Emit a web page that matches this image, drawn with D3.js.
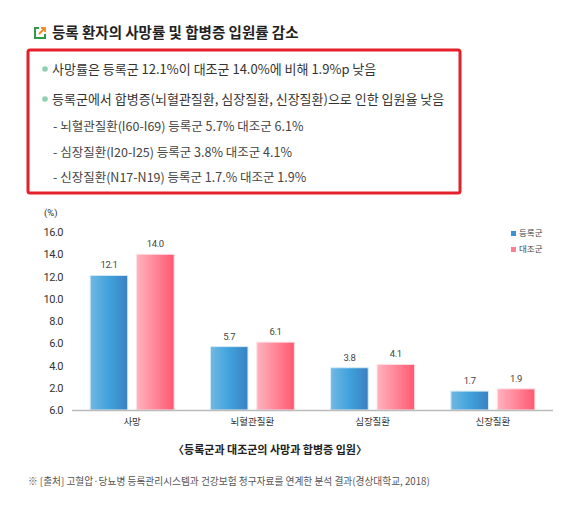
<!DOCTYPE html>
<html>
<head>
<meta charset="utf-8">
<script src="https://cdn.jsdelivr.net/npm/d3@7"></script>
<style>
  body { margin: 0; background: #fff; }
  svg { display: block; font-family: "Noto Sans CJK KR", "Noto Sans", sans-serif; }
</style>
</head>
<body>
<div class="chart"></div>
<script>
// data
const categories = ['사망', '뇌혈관질환', '심장질환', '신장질환'];
const seriesNames = ['등록군', '대조군'];
const registered = [12.1, 5.7, 3.8, 1.7];
const control = [14.0, 6.1, 4.1, 1.9];
const tickValues = [0, 2, 4, 6, 8, 10, 12, 14, 16];
const tickLabels = ['6.0', '2.0', '4.0', '6.0', '8.0', '10.0', '12.0', '14.0', '16.0'];

const title = '등록 환자의 사망률 및 합병증 입원률 감소';
const bullets = [
  '사망률은 등록군 12.1%이 대조군 14.0%에 비해 1.9%p 낮음',
  '등록군에서 합병증(뇌혈관질환, 심장질환, 신장질환)으로 인한 입원율 낮음'
];
const subItems = [
  '뇌혈관질환(I60-I69) 등록군 5.7% 대조군 6.1%',
  '심장질환(I20-I25) 등록군 3.8% 대조군 4.1%',
  '신장질환(N17-N19) 등록군 1.7.% 대조군 1.9%'
];
const caption = '〈등록군과 대조군의 사망과 합병증 입원〉';
const source = '※ [출처] 고혈압·당뇨병 등록관리시스템과 건강보험 청구자료를 연계한 분석 결과(경상대학교, 2018)';

const width = 579;
const height = 511;

const svg = d3.select('.chart')
  .append('svg')
  .attr('width', width)
  .attr('height', height);

// gradients
const defs = svg.append('defs');
const gradBlue = defs.append('linearGradient').attr('id', 'gBlue');
gradBlue.append('stop').attr('offset', '0%').attr('stop-color', '#72b8e4');
gradBlue.append('stop').attr('offset', '50%').attr('stop-color', '#40a2dc');
gradBlue.append('stop').attr('offset', '100%').attr('stop-color', '#3a80c2');
const gradPink = defs.append('linearGradient').attr('id', 'gPink');
gradPink.append('stop').attr('offset', '0%').attr('stop-color', '#ffb3bf');
gradPink.append('stop').attr('offset', '100%').attr('stop-color', '#ff5870');

// title icon
const icon = svg.append('g').attr('transform', 'translate(34,27)');
icon.append('path')
  .attr('d', 'M5,1 H1 V11 H11 V7')
  .attr('fill', 'none').attr('stroke', '#2e9a4a').attr('stroke-width', 2);
icon.append('path')
  .attr('d', 'M5,7 L11,1 M7,1 H11 V5')
  .attr('fill', 'none').attr('stroke', '#f08a24').attr('stroke-width', 1.8);

svg.append('text')
  .attr('x', 52).attr('y', 38)
  .attr('font-size', '14.5px')
  .attr('font-weight', 'bold')
  .attr('fill', '#222')
  .text(title);

// red box
svg.append('rect')
  .attr('x', 28).attr('y', 50)
  .attr('width', 432).attr('height', 143)
  .attr('rx', 2)
  .attr('fill', '#fff')
  .attr('stroke', '#e5202b')
  .attr('stroke-width', 3);

svg.selectAll('circle.bullet')
  .data(bullets)
  .enter()
  .append('circle')
  .attr('class', 'bullet')
  .attr('cx', 45)
  .attr('cy', (d, i) => 69 + i * 30)
  .attr('r', 2.8)
  .attr('fill', '#8ccfb1');

svg.selectAll('text.bullet')
  .data(bullets)
  .enter()
  .append('text')
  .attr('class', 'bullet')
  .attr('x', 52)
  .attr('y', (d, i) => 74 + i * 30)
  .attr('font-size', '13px')
  .attr('fill', '#333')
  .text(d => d);

svg.selectAll('text.sub')
  .data(subItems)
  .enter()
  .append('text')
  .attr('class', 'sub')
  .attr('x', 53)
  .attr('y', (d, i) => 131 + i * 25.5)
  .attr('font-size', '12.5px')
  .attr('fill', '#444')
  .text(d => '-  ' + d);

// chart
const margin = {left: 72, right: 26, top: 232, bottom: 101};
const plotH = height - margin.bottom;

const x0 = d3.scaleBand()
  .domain(categories)
  .range([margin.left, width - margin.right])
  .padding(0);

const x1 = d3.scaleBand()
  .domain(seriesNames)
  .range([0, 84])
  .paddingInner(0.19);

const y = d3.scaleLinear()
  .domain([0, 16])
  .range([plotH, margin.top]);

const rows = categories.map((c, i) => ({
  cat: c,
  vals: [
    {s: seriesNames[0], v: registered[i]},
    {s: seriesNames[1], v: control[i]}
  ]
}));

// y tick labels
svg.selectAll('text.ytick')
  .data(tickValues)
  .enter()
  .append('text')
  .attr('class', 'ytick')
  .attr('x', 63)
  .attr('y', d => y(d) + 4)
  .attr('text-anchor', 'end')
  .attr('font-size', '11px')
  .attr('font-family', 'Roboto, "Noto Sans", sans-serif')
  .attr('letter-spacing', '-0.5px')
  .attr('fill', '#333')
  .text((d, i) => tickLabels[i]);

svg.append('text')
  .attr('x', 44).attr('y', 216)
  .attr('font-size', '9.5px')
  .attr('font-family', 'Roboto, "Noto Sans", sans-serif')
  .attr('fill', '#333')
  .text('(%)');

const groups = svg.selectAll('g.group')
  .data(rows)
  .enter()
  .append('g')
  .attr('class', 'group')
  .attr('transform', d => `translate(${x0(d.cat) + (x0.bandwidth() - 84) / 2},0)`);

groups.selectAll('rect')
  .data(d => d.vals)
  .enter()
  .append('rect')
  .attr('x', d => x1(d.s))
  .attr('y', d => y(d.v))
  .attr('width', x1.bandwidth())
  .attr('height', d => plotH - y(d.v))
  .attr('fill', (d, i) => i === 0 ? 'url(#gBlue)' : 'url(#gPink)')
  .attr('stroke', (d, i) => i === 0 ? '#d6ecf8' : '#ffe0e5')
  .attr('stroke-width', 1);

groups.selectAll('text.val')
  .data(d => d.vals)
  .enter()
  .append('text')
  .attr('class', 'val')
  .attr('x', d => x1(d.s) + x1.bandwidth() / 2)
  .attr('y', d => y(d.v) - 7)
  .attr('text-anchor', 'middle')
  .attr('font-size', '9.5px')
  .attr('font-family', 'Roboto, "Noto Sans", sans-serif')
  .attr('letter-spacing', '-0.4px')
  .attr('fill', '#444')
  .text(d => d.v.toFixed(1));

// baseline
svg.append('line')
  .attr('x1', margin.left).attr('x2', width - margin.right)
  .attr('y1', plotH + 0.5).attr('y2', plotH + 0.5)
  .attr('stroke', '#bbb')
  .attr('stroke-width', 1.5);

svg.selectAll('text.cat')
  .data(categories)
  .enter()
  .append('text')
  .attr('class', 'cat')
  .attr('x', d => x0(d) + x0.bandwidth() / 2)
  .attr('y', plotH + 15)
  .attr('text-anchor', 'middle')
  .attr('font-size', '9.5px')
  .attr('fill', '#333')
  .text(d => d);

// legend
const legend = svg.selectAll('g.legend')
  .data(seriesNames)
  .enter()
  .append('g')
  .attr('class', 'legend')
  .attr('transform', (d, i) => `translate(511,${231 + i * 16})`);
legend.append('rect')
  .attr('width', 5).attr('height', 5)
  .attr('fill', (d, i) => i === 0 ? '#3a93d4' : '#ff7f92');
legend.append('text')
  .attr('x', 8).attr('y', 5)
  .attr('font-size', '8.5px')
  .attr('fill', '#444')
  .text(d => d);

// caption and source
svg.append('text')
  .attr('x', 270).attr('y', 454)
  .attr('text-anchor', 'middle')
  .attr('font-size', '11px')
  .attr('font-weight', 'bold')
  .attr('fill', '#222')
  .text(caption);

svg.append('text')
  .attr('x', 28).attr('y', 485)
  .attr('font-size', '9.7px')
  .attr('fill', '#555')
  .text(source);
</script>
</body>
</html>
